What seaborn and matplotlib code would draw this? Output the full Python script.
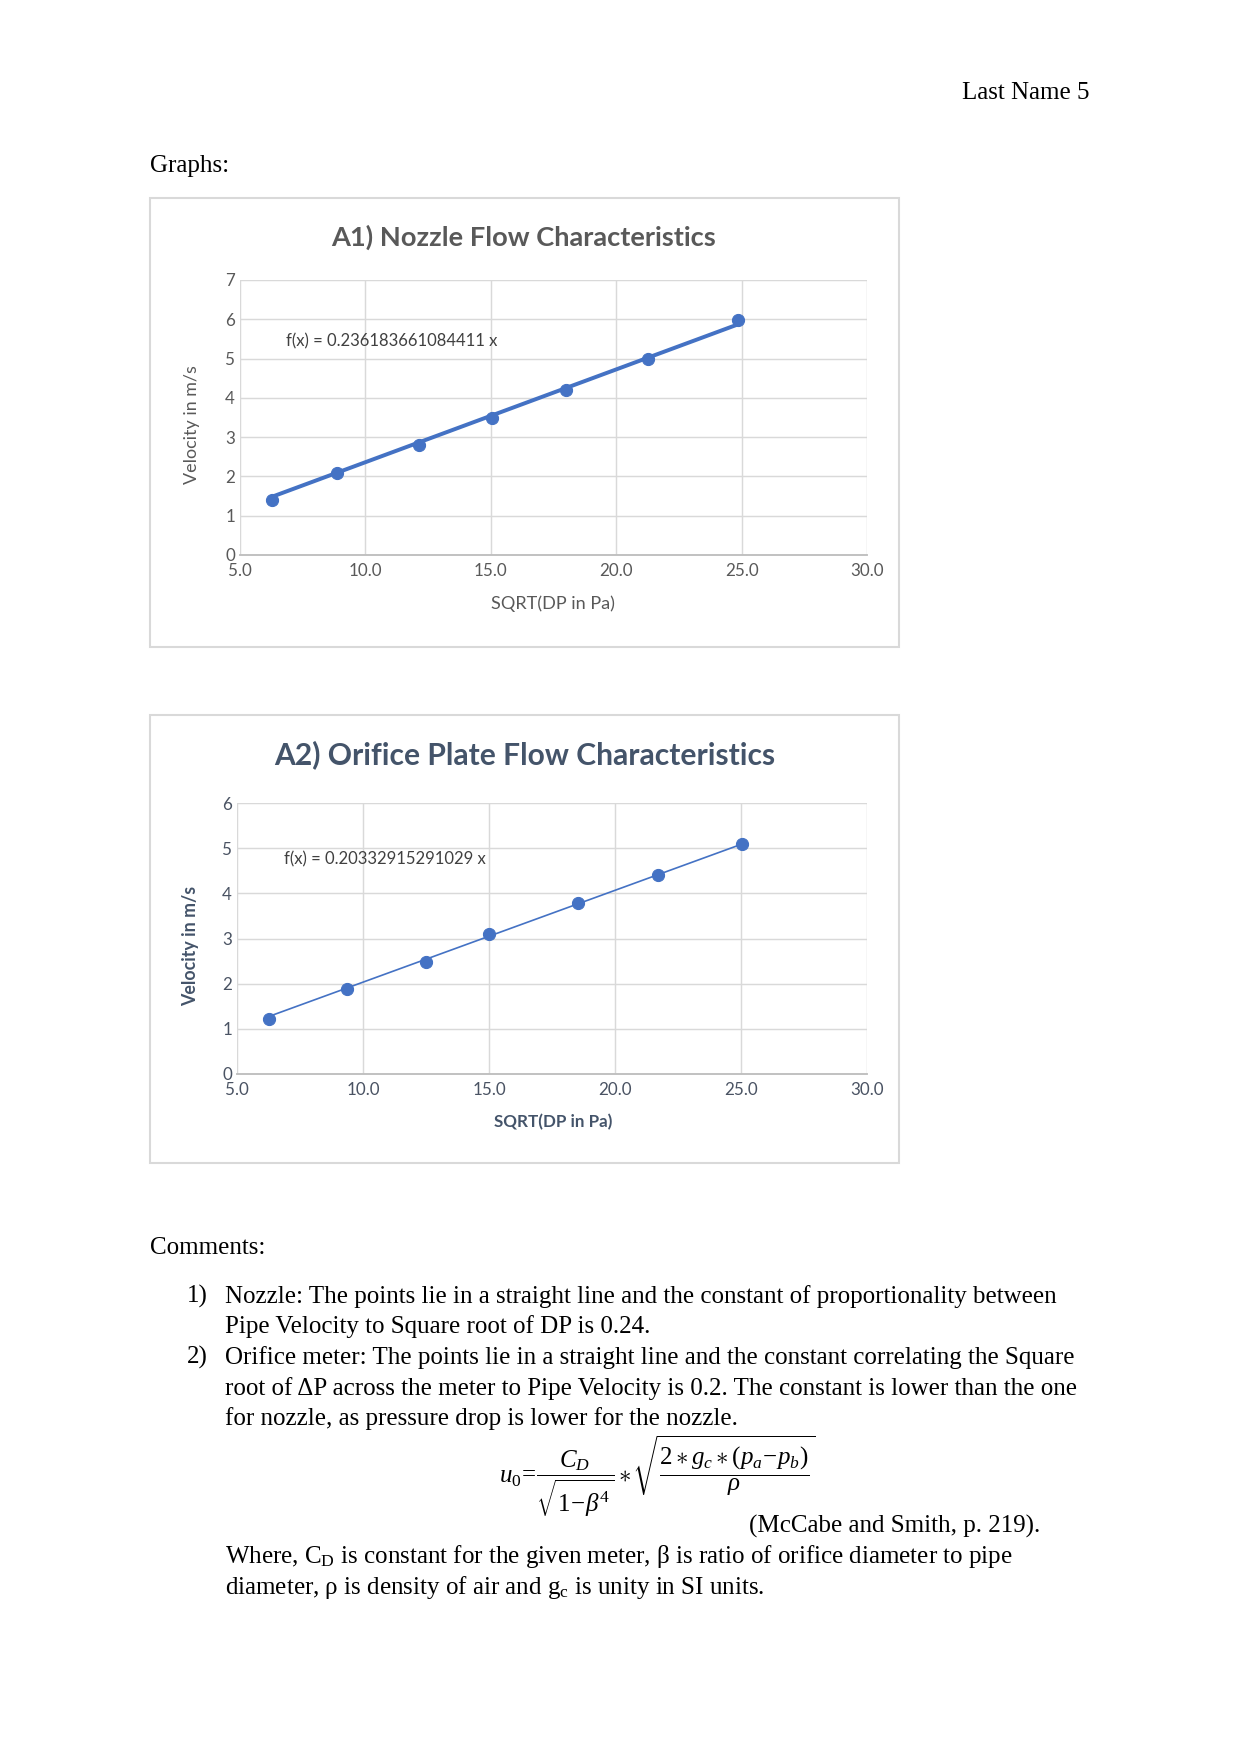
import matplotlib
matplotlib.use("Agg")
import matplotlib.pyplot as plt
import seaborn as sns
import pandas as pd
from matplotlib.patches import Rectangle

# ---------------- data ----------------
nozzle_sqrt_dp = [6.26, 8.85, 12.14, 15.03, 18.00, 21.26, 24.86]
nozzle_velocity = [1.40, 2.08, 2.79, 3.48, 4.20, 4.98, 5.98]
nozzle_slope = 0.236183661084411

orifice_sqrt_dp = [6.26, 9.38, 12.51, 15.01, 18.52, 21.69, 25.04]
orifice_velocity = [1.21, 1.89, 2.49, 3.10, 3.79, 4.40, 5.10]
orifice_slope = 0.20332915291029

x_ticks = [5.0, 10.0, 15.0, 20.0, 25.0, 30.0]
nozzle_y_ticks = [0, 1, 2, 3, 4, 5, 6, 7]
orifice_y_ticks = [0, 1, 2, 3, 4, 5, 6]

title1 = "A1) Nozzle Flow Characteristics"
title2 = "A2) Orifice Plate Flow Characteristics"
ylab = "Velocity in m/s"
xlab = "SQRT(DP in Pa)"

# ---------------- style ----------------
sns.set_style("white")
plt.rcParams["font.family"] = ["Lato", "DejaVu Sans"]
plt.rcParams["mathtext.fontset"] = "custom"
plt.rcParams["mathtext.rm"] = "Liberation Serif"
plt.rcParams["mathtext.it"] = "Liberation Serif:italic"
plt.rcParams["mathtext.bf"] = "Liberation Serif:bold"

W, H = 1241, 1754
DPI = 150
fig = plt.figure(figsize=(W / DPI, H / DPI), dpi=DPI)
fig.patch.set_facecolor("white")


def fx(x):
    return x / W


def fy(y):
    return 1 - y / H


def axes_px(l, t, r, b):
    return fig.add_axes([fx(l), fy(b), (r - l) / W, (b - t) / H])


BLUE = "#4472C4"
GRID = "#D9D9D9"
SERIF = ["Liberation Serif", "DejaVu Serif"]

# chart borders
for (l, t, r, b) in [(150, 198, 899, 647), (150, 715, 899, 1163)]:
    fig.patches.append(Rectangle((fx(l), fy(b)), (r - l) / W, (b - t) / H,
                                 transform=fig.transFigure, fill=False,
                                 edgecolor=GRID, linewidth=1.0))


def draw_chart(ax, xs, ys, slope, yticks, tick_color, lw, eq_pos, eq_text):
    df = pd.DataFrame({"x": xs, "y": ys})
    xmin, xmax = min(xs), max(xs)
    trend = pd.DataFrame({"x": [xmin, xmax], "y": [slope * xmin, slope * xmax]})
    sns.lineplot(data=trend, x="x", y="y", ax=ax, color=BLUE, linewidth=lw, zorder=3)
    sns.scatterplot(data=df, x="x", y="y", ax=ax, color=BLUE, s=34,
                    edgecolor=BLUE, linewidth=0.5, zorder=4)
    ax.set_xlim(x_ticks[0], x_ticks[-1])
    ax.set_ylim(yticks[0], yticks[-1])
    ax.set_xticks(x_ticks)
    ax.set_xticklabels([f"{v:.1f}" for v in x_ticks])
    ax.set_yticks(yticks)
    ax.set_yticklabels([str(v) for v in yticks])
    ax.grid(True, color=GRID, linewidth=0.7)
    ax.set_axisbelow(True)
    for s in ["top", "right", "left"]:
        ax.spines[s].set_visible(False)
    ax.spines["bottom"].set_color("#BFBFBF")
    ax.spines["bottom"].set_linewidth(0.9)
    ax.tick_params(axis="both", length=0, labelsize=8.2, colors=tick_color)
    ax.tick_params(axis="x", pad=3.8)
    ax.tick_params(axis="y", pad=2.4)
    ax.set_xlabel("")
    ax.set_ylabel("")
    ax.text(eq_pos[0], eq_pos[1], eq_text, fontsize=8.0, color="#404040",
            va="center", ha="left")


ax1 = axes_px(240, 280, 867, 555)
draw_chart(ax1, nozzle_sqrt_dp, nozzle_velocity, nozzle_slope, nozzle_y_ticks,
           "#595959", 1.9, (6.83, 5.45), f"f(x) = {nozzle_slope} x")

ax2 = axes_px(237, 803, 867, 1074)
draw_chart(ax2, orifice_sqrt_dp, orifice_velocity, orifice_slope, orifice_y_ticks,
           "#4A5363", 0.8, (6.87, 4.76), f"f(x) = {orifice_slope} x")

# titles and axis labels
fig.text(fx(524), fy(237), title1, fontsize=13.1, fontweight="bold",
         color="#595959", ha="center", va="center")
fig.text(fx(192), fy(425), ylab, fontsize=8.6, color="#595959", rotation=90,
         ha="center", va="center")
fig.text(fx(553), fy(604), xlab, fontsize=8.7, color="#595959",
         ha="center", va="center")

fig.text(fx(525), fy(755), title2, fontsize=14.4, fontweight="bold",
         color="#44546A", ha="center", va="center")
fig.text(fx(191), fy(946), ylab, fontsize=8.5, color="#44546A", rotation=90,
         fontweight="bold", ha="center", va="center")
fig.text(fx(553), fy(1122), xlab, fontsize=8.2, color="#44546A",
         fontweight="bold", ha="center", va="center")

# ---------------- page text ----------------
def body(x, y, s, ha="left", size=12):
    fig.text(fx(x), fy(y), s, fontsize=size, family=SERIF, color="black",
             ha=ha, va="baseline")


body(1090, 99, "Last Name 5", ha="right")
body(150, 172, "Graphs:")
body(150, 1254, "Comments:")

body(187, 1302.5, "1)")
body(225, 1302.5, "Nozzle: The points lie in a straight line and the constant of proportionality between")
body(225, 1333, "Pipe Velocity to Square root of DP is 0.24.")
body(187, 1364, "2)")
body(225, 1364, "Orifice meter: The points lie in a straight line and the constant correlating the Square")
body(225, 1394.5, "root of \u0394P across the meter to Pipe Velocity is 0.2. The constant is lower than the one")
body(225, 1425, "for nozzle, as pressure drop is lower for the nozzle.")

fig.text(fx(657), fy(1476),
         r"$u_0\!=\!\dfrac{C_D}{\sqrt{1\!-\!\beta^4}}\ast\!\sqrt{\dfrac{2\ast g_c\ast(p_a\!-\!p_b)}{\rho}}$",
         fontsize=12, ha="center", va="center", color="black")

body(1040, 1533, "(McCabe and Smith, p. 219).", ha="right")
body(225, 1563, "Where, C$_{\\mathregular{D}}$ is constant for the given meter, \u03b2 is ratio of orifice diameter to pipe")
body(225, 1594, "diameter, \u03c1 is density of air and g$_{\\mathregular{c}}$ is unity in SI units.")

fig.savefig("out.png", dpi=DPI, facecolor="white")
